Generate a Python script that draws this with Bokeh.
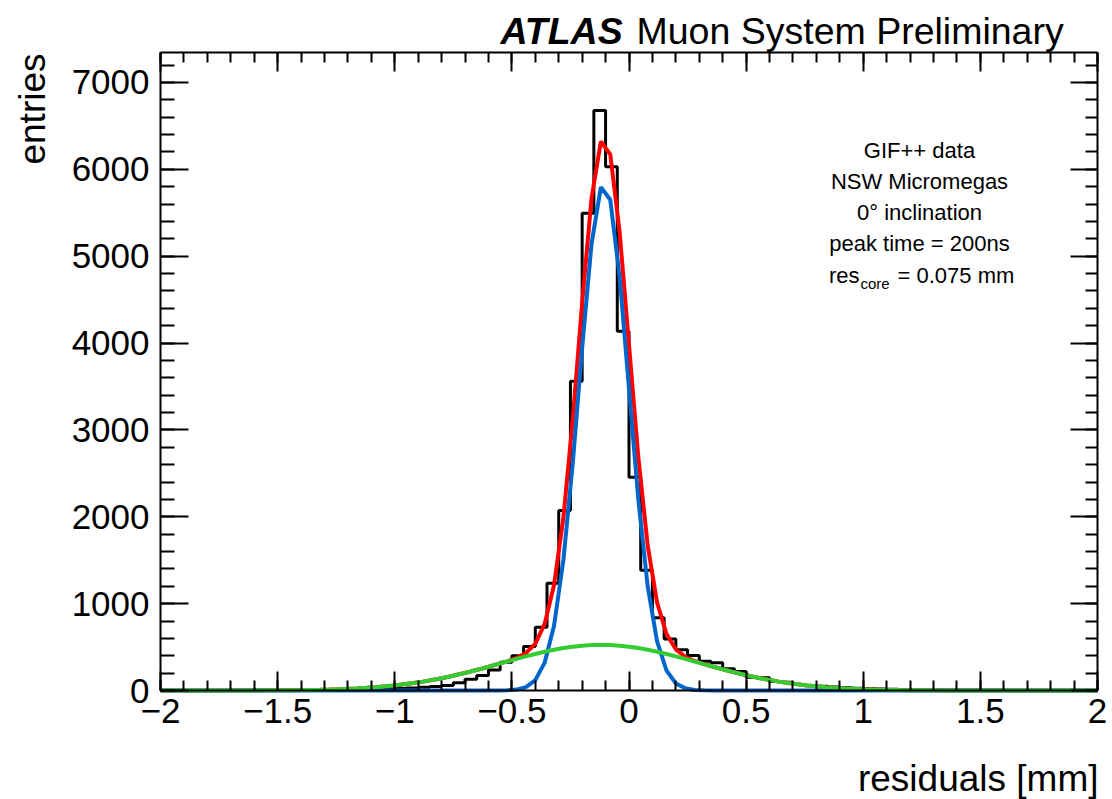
import numpy as np
from bokeh.plotting import figure
from bokeh.models import Label, LinearAxis, FixedTicker, Range1d
from bokeh.embed import file_html
from bokeh.resources import INLINE

# ---------------- data ----------------
x_lo, x_hi = -2.0, 2.0
y_top = 7345
bin_lo = -2.0
bin_width = 0.05
counts = [
    0, 0, 0, 1, 1, 1, 2, 2, 3, 3,
    4, 5, 6, 7, 9, 10, 12, 14, 17, 20,
    24, 28, 36, 46, 58, 90, 130, 172, 235, 326,
    400, 506, 729, 1235, 2072, 3560, 5494, 6676, 6031, 4136,
    2455, 1385, 837, 594, 468, 403, 338, 319, 250, 219,
    153, 146, 104, 96, 70, 58, 50, 40, 32, 26,
    20, 16, 13, 10, 8, 6, 5, 4, 3, 3,
    2, 2, 1, 1, 1, 1, 0, 1, 0, 0,
]

# fit parameters (double Gaussian)
core_amp, core_mean, core_sigma = 5840.0, -0.107, 0.105
tail_amp, tail_mean, tail_sigma = 525.0, -0.12, 0.42
fit_npx = 100

x_major = [-2, -1.5, -1, -0.5, 0, 0.5, 1, 1.5, 2]
x_major_labels = ["\u22122", "\u22121.5", "\u22121", "\u22120.5", "0", "0.5", "1", "1.5", "2"]
x_minor_step = 0.1
y_major = [0, 1000, 2000, 3000, 4000, 5000, 6000, 7000]
y_major_labels = ["0", "1000", "2000", "3000", "4000", "5000", "6000", "7000"]
y_minor_step = 200

info_lines = ["GIF++ data", "NSW Micromegas", "0\u00b0 inclination", "peak time = 200ns"]

# ---------------- geometry (canvas pixels of the frame) ----------------
FONT = "Liberation Sans"
W, H = 1112, 799
L, R, T, B = 160, 1097, 52, 690


def dx(px):
    return x_lo + (px - L) * (x_hi - x_lo) / (R - L)


def dy(py):
    return (B - py) * y_top / (B - T)


p = figure(width=W, height=H, x_range=Range1d(dx(0), dx(W)), y_range=Range1d(dy(H), dy(0)),
           output_backend="svg", toolbar_location=None,
           x_axis_location=None, y_axis_location=None, min_border=0)
p.grid.visible = False
p.outline_line_color = None
p.background_fill_color = "white"
p.border_fill_color = "white"

x_minor = list(np.round(np.arange(x_lo, x_hi + 1e-9, x_minor_step), 3))
y_minor = list(np.arange(0, y_top, y_minor_step))


def make_axis(ticks, minor, labels, major_len, minor_len, show, loc, bounds):
    ax = LinearAxis(fixed_location=loc, bounds=bounds)
    ax.ticker = FixedTicker(ticks=ticks, minor_ticks=minor)
    ax.major_tick_in = major_len
    ax.major_tick_out = 0
    ax.minor_tick_in = minor_len
    ax.minor_tick_out = 0
    ax.major_tick_line_width = 2
    ax.minor_tick_line_width = 2
    ax.axis_line_width = 2
    ax.axis_line_color = "black"
    ax.major_tick_line_color = "black"
    ax.minor_tick_line_color = "black"
    ax.major_label_text_font = FONT
    ax.major_label_text_font_size = "35px"
    ax.major_label_text_color = "black"
    if show:
        ax.major_label_overrides = {t: l for t, l in zip(ticks, labels)}
    else:
        ax.major_label_overrides = {t: "" for t in ticks}
        ax.major_label_text_font_size = "1px"
    return ax


ax_b = make_axis(x_major, x_minor, x_major_labels, 19, 10, True, 0, (x_lo, x_hi))
ax_b.major_label_standoff = 8
ax_t = make_axis(x_major, x_minor, x_major_labels, 19, 10, False, y_top, (x_lo, x_hi))
ax_l = make_axis(y_major, y_minor, y_major_labels, 28, 14, True, x_lo, (0, y_top))
ax_l.major_label_standoff = 11
ax_r = make_axis(y_major, y_minor, y_major_labels, 27, 12, False, x_hi, (0, y_top))
p.add_layout(ax_b, "below")
p.add_layout(ax_t, "above")
p.add_layout(ax_l, "left")
p.add_layout(ax_r, "right")

# histogram outline
edges = bin_lo + bin_width * np.arange(len(counts) + 1)
step_y = list(counts) + [counts[-1]]
p.step(edges, step_y, mode="after", line_color="black", line_width=3)

# fit curves
fx = np.linspace(x_lo, x_hi, fit_npx + 1)
core = core_amp * np.exp(-0.5 * ((fx - core_mean) / core_sigma) ** 2)
tail = tail_amp * np.exp(-0.5 * ((fx - tail_mean) / tail_sigma) ** 2)
total = core + tail
p.line(fx, total, line_color="#FF0000", line_width=4)
p.line(fx, core, line_color="#0066CC", line_width=4)
p.line(fx, tail, line_color="#33CC33", line_width=4)


# ---------------- texts ----------------
BASE_SHIFT = 0.33  # correction of the rendered alphabetic baseline, in em


def add_text(px, py, text, size, align="left", style="normal", rotated=False):
    if rotated:
        px = px - BASE_SHIFT * size
        angle = np.pi / 2
    else:
        py = py - BASE_SHIFT * size
        angle = 0.0
    p.add_layout(Label(x=dx(px), y=dy(py), x_units="data", y_units="data", text=text,
                       text_font=FONT, text_font_size=f"{size}px", text_font_style=style,
                       text_align=align, text_baseline="alphabetic", angle=angle,
                       text_color="black"))


add_text(500, 43, "ATLAS", 37.5, style="bold italic")
add_text(636, 43, "Muon System Preliminary", 37.5)
add_text(1098, 790, "residuals [mm]", 37, align="right")
add_text(44, 53, "entries", 37, align="right", rotated=True)

cx = 919
for i, line in enumerate(info_lines):
    add_text(cx, 157 + 31.2 * i, line, 22, align="center")
by = 157 + 31.2 * 4
add_text(859, by, "res", 22, align="right")
add_text(860, by + 6, "core", 15)
add_text(897, by, "= 0.075 mm", 22)

open("out.html", "w").write(file_html(p, INLINE))
